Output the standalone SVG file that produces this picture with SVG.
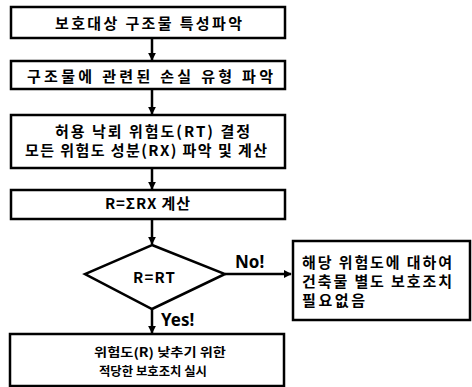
<svg xmlns="http://www.w3.org/2000/svg" width="472" height="387" viewBox="0 0 472 387">
<defs>
<marker id="ah" viewBox="0 0 10 10" refX="9" refY="5" markerWidth="3.2" markerHeight="3.2" orient="auto" markerUnits="strokeWidth">
<path d="M0,0 L10,5 L0,10 Z" fill="#000"/>
</marker>
<style>
.box{fill:#fff;stroke:#000;stroke-width:2.5;}
.t{font-family:"Noto Sans CJK KR","Noto Sans",sans-serif;font-weight:700;font-size:15px;fill:#000;}
.s{font-size:12.5px;}
.l{font-family:"Noto Sans","Liberation Sans",sans-serif;font-weight:700;font-size:17px;fill:#000;}
.c{fill:none;stroke:#000;stroke-width:2.5;marker-end:url(#ah);}
</style>
</defs>
<rect width="472" height="387" fill="#fff"/>
<g id="connectors">
<line class="c" x1="152" y1="39" x2="152" y2="60"/>
<line class="c" x1="152" y1="90" x2="152" y2="114"/>
<line class="c" x1="152" y1="169" x2="152" y2="189"/>
<line class="c" x1="152" y1="220" x2="152" y2="244"/>
<line class="c" x1="152" y1="309" x2="152" y2="333"/>
<line class="c" x1="225" y1="274" x2="291" y2="274"/>
<text class="l" x="235" y="268">No!</text>
<text class="l" x="161" y="326">Yes!</text>
</g>
<g id="n1">
<rect class="box" x="11" y="7" width="274" height="31"/>
<text class="t" x="55" y="29" textLength="187" lengthAdjust="spacing">보호대상 구조물 특성파악</text>
</g>
<g id="n2">
<rect class="box" x="11" y="61" width="274" height="28"/>
<text class="t" x="27" y="82" textLength="246" lengthAdjust="spacing">구조물에 관련된 손실 유형 파악</text>
</g>
<g id="n3">
<rect class="box" x="11" y="115" width="274" height="53"/>
<text class="t" x="55" y="137" textLength="195" lengthAdjust="spacing">허용 낙뢰 위험도(RT) 결정</text>
<text class="t" x="25" y="156" textLength="242" lengthAdjust="spacing">모든 위험도 성분(RX) 파악 및 계산</text>
</g>
<g id="n4">
<rect class="box" x="11" y="190" width="274" height="29"/>
<text class="t" x="105" y="209" textLength="85" lengthAdjust="spacing">R=ΣRX 계산</text>
</g>
<g id="n5">
<polygon class="box" points="152,245 225,274 152,309 85,274"/>
<text class="t" x="133" y="283" textLength="42" lengthAdjust="spacing">R=RT</text>
</g>
<g id="n6">
<rect class="box" x="293" y="241" width="177" height="79"/>
<text class="t" x="302" y="268" textLength="150" lengthAdjust="spacing">해당 위험도에 대하여</text>
<text class="t" x="302" y="287" textLength="150" lengthAdjust="spacing">건축물 별도 보호조치</text>
<text class="t" x="302" y="306" textLength="63" lengthAdjust="spacing">필요없음</text>
</g>
<g id="n7">
<rect class="box" x="10" y="334" width="274" height="52"/>
<text class="t s" x="94" y="357" textLength="132" lengthAdjust="spacingAndGlyphs">위험도(R) 낮추기 위한</text>
<text class="t s" x="99" y="376" textLength="108" lengthAdjust="spacingAndGlyphs">적당한 보호조치 실시</text>
</g>
</svg>
